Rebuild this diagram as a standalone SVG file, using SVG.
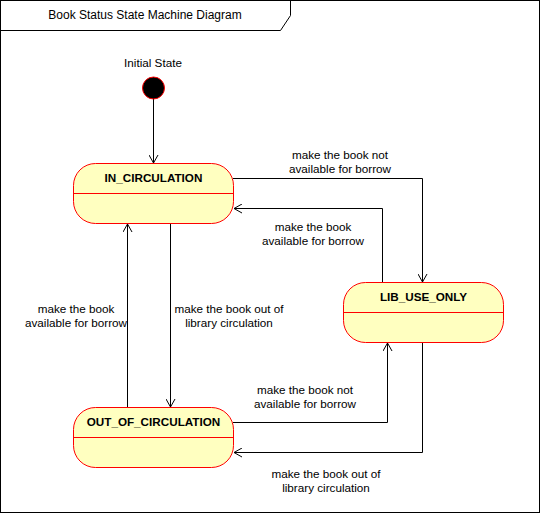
<svg xmlns="http://www.w3.org/2000/svg" width="540" height="513" viewBox="0 0 540 513">
<defs>
<marker id="arr" viewBox="0 0 10 10" refX="9" refY="5" markerWidth="10" markerHeight="10" markerUnits="userSpaceOnUse" orient="auto">
<path d="M1,0.5 L9,5 L1,9.5" fill="none" stroke="#000" stroke-width="1"/>
</marker>
</defs>
<style>
.lbl{font-family:"Liberation Sans",Arial,sans-serif;font-size:11.7px;fill:#000;text-anchor:middle}
.st{fill:#FFFFC0;stroke:#FF0000;stroke-width:1}
.div{stroke:#FF0000;stroke-width:1}
.nm{font-family:"Liberation Sans",Arial,sans-serif;font-size:11.7px;font-weight:bold;fill:#000;text-anchor:middle}
.cn{fill:none;stroke:#000;stroke-width:1;marker-end:url(#arr)}
</style>
<rect x="0" y="0" width="540" height="513" fill="#fff"/>
<g id="frame">
<rect x="0.5" y="0.5" width="539" height="512" fill="none" stroke="#000"/>
<path d="M0.5,30.5 H280.5 L290.5,15.5 V0.5" fill="none" stroke="#000"/>
<text x="145" y="19" class="lbl" style="font-size:12px">Book Status State Machine Diagram</text>
</g>
<g id="connectors">
<path class="cn" d="M153.5,99 V163"/>
<path class="cn" d="M233,178.5 H422.5 V282"/>
<path class="cn" d="M382.5,282 V208.5 H234"/>
<path class="cn" d="M170.5,223 V407"/>
<path class="cn" d="M127.5,407 V224"/>
<path class="cn" d="M233,422.5 H387.5 V343"/>
<path class="cn" d="M422.5,342 V452.5 H234"/>
<text class="lbl" x="340" y="159">make the book not</text>
<text class="lbl" x="340" y="173">available for borrow</text>
<text class="lbl" x="313" y="231">make the book</text>
<text class="lbl" x="313" y="245">available for borrow</text>
<text class="lbl" x="229" y="313">make the book out of</text>
<text class="lbl" x="229" y="327">library circulation</text>
<text class="lbl" x="76" y="313">make the book</text>
<text class="lbl" x="76" y="327">available for borrow</text>
<text class="lbl" x="305" y="394">make the book not</text>
<text class="lbl" x="305" y="408">available for borrow</text>
<text class="lbl" x="326" y="478">make the book out of</text>
<text class="lbl" x="326" y="492">library circulation</text>
</g>
<g id="initial">
<text class="lbl" x="153" y="67">Initial State</text>
<circle cx="153.5" cy="88" r="11" fill="#000" stroke="#FF0000"/>
</g>
<g id="in_circulation">
<rect class="st" x="73.5" y="163.5" width="160" height="60" rx="22" ry="22"/>
<line class="div" x1="73.5" y1="193.5" x2="233.5" y2="193.5"/>
<text class="nm" x="153.5" y="182">IN_CIRCULATION</text>
</g>
<g id="lib_use_only">
<rect class="st" x="343.5" y="282.5" width="160" height="60" rx="22" ry="22"/>
<line class="div" x1="343.5" y1="312.5" x2="503.5" y2="312.5"/>
<text class="nm" x="423.5" y="301">LIB_USE_ONLY</text>
</g>
<g id="out_of_circulation">
<rect class="st" x="73.5" y="407.5" width="160" height="60" rx="22" ry="22"/>
<line class="div" x1="73.5" y1="437.5" x2="233.5" y2="437.5"/>
<text class="nm" x="153.5" y="426">OUT_OF_CIRCULATION</text>
</g>
</svg>
